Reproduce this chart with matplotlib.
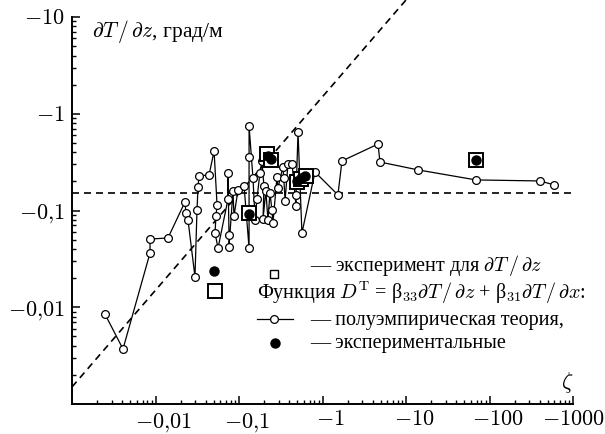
import numpy as np
import matplotlib
matplotlib.use("Agg")
import matplotlib.pyplot as plt
import matplotlib.transforms as mtransforms
from matplotlib.ticker import LogLocator, FixedLocator, FixedFormatter, NullFormatter

plt.rcParams['font.family'] = ['Liberation Serif', 'DejaVu Serif']
plt.rcParams['mathtext.fontset'] = 'cm'

# semi-empirical theory: stability parameter zeta and dT/dz, grad/m
zeta_theory = [-0.00248, -0.00408, -0.0086, -0.0086, -0.0141, -0.0225, -0.0232, -0.0245,
               -0.0297, -0.0314, -0.0323, -0.0332, -0.0438, -0.0503, -0.0546, -0.053,
               -0.0516, -0.0561, -0.0738, -0.0738, -0.0759, -0.0759, -0.0847, -0.0871,
               -0.0973, -0.115, -0.132, -0.132, -0.132, -0.132, -0.147, -0.156,
               -0.164, -0.178, -0.188, -0.199, -0.194, -0.21, -0.222, -0.235,
               -0.248, -0.255, -0.285, -0.293, -0.336, -0.344, -0.356, -0.386,
               -0.432, -0.482, -0.482, -0.509, -0.567, -0.813, -1.53, -1.71,
               -4.62, -4.88, -13.9, -68.9, -403, -592]
dtdz_theory = [-0.00851, -0.0037, -0.0364, -0.0507, -0.052, -0.122, -0.094, -0.0798,
               -0.0206, -0.101, -0.175, -0.228, -0.233, -0.412, -0.114, -0.0877,
               -0.0585, -0.0409, -0.131, -0.244, -0.0558, -0.042, -0.159, -0.0877,
               -0.163, -0.179, -0.0409, -0.092, -0.357, -0.746, -0.217, -0.0798,
               -0.131, -0.244, -0.325, -0.179, -0.0817, -0.159, -0.0798, -0.152,
               -0.101, -0.0743, -0.222, -0.171, -0.282, -0.217, -0.125, -0.303,
               -0.303, -0.111, -0.145, -0.647, -0.0585, -0.25, -0.145, -0.325,
               -0.486, -0.317, -0.263, -0.207, -0.202, -0.184]
# circles that sit under a filled marker are not drawn
theory_hidden = [27]

# measured dT/dz (open squares)
zeta_meas = [-0.0516, -0.132, -0.216, -0.241, -0.495, -0.553, -0.634, -68.9]
dtdz_meas = [-0.0147, -0.094, -0.384, -0.333, -0.197, -0.212, -0.228, -0.333]

# experimental D^T (filled dots)
zeta_dt = [-0.0503, -0.132, -0.222, -0.243, -0.5, -0.56, -0.625, -68.9]
dtdz_dt = [-0.0237, -0.092, -0.365, -0.34, -0.203, -0.215, -0.226, -0.333]

# reference lines
dtdz_const = -0.15
slope_coef = 1.5

x_ticks = [-0.01, -0.1, -1, -10, -100, -1000]
x_labels = ['$-0{,}01$', '$-0{,}1$', '$-1$', '$-10$', '$-100$', '$-1000$']
y_ticks = [-0.01, -0.1, -1, -10]
y_labels = ['$-0{,}01$', '$-0{,}1$', '$-1$', '$-10$']

fig = plt.figure(figsize=(6.05, 4.34), dpi=100)
ax = fig.add_axes([72/605, 30/434, 501/605, 387/434])
ax.set_xscale('log')
ax.set_yscale('log')
ax.set_xlim(1e-3, 1e3)
ax.set_ylim(1e-3, 1e1)

# both axes carry negative values, plotted by magnitude
zt = -np.array(zeta_theory)
dt = -np.array(dtdz_theory)

ax.plot([1e-3, 1e3], [-dtdz_const]*2, color='black', lw=1.2, dashes=(4.2, 3), zorder=1)
zl = np.array([1e-3, 10.3])
ax.plot(zl, slope_coef*zl, color='black', lw=1.2, dashes=(4.2, 3), zorder=1, clip_on=False)

ax.plot(zt, dt, color='black', lw=0.9, zorder=2)
shown = [i for i in range(len(zt)) if i not in theory_hidden]
ax.plot(zt[shown], dt[shown], ls='none', marker='o', ms=5.6, mfc='white',
        mec='black', mew=0.9, zorder=3)
ax.plot(-np.array(zeta_meas), -np.array(dtdz_meas), ls='none', marker='s', ms=9.4,
        mfc='white', mec='black', mew=1.4, zorder=4)
ax.plot(-np.array(zeta_dt), -np.array(dtdz_dt), ls='none', marker='o', ms=6.5,
        mfc='black', mec='black', zorder=5)

for side in ['top', 'right']:
    ax.spines[side].set_visible(False)
for side in ['left', 'bottom']:
    ax.spines[side].set_linewidth(1.4)

ax.xaxis.set_major_locator(FixedLocator([-v for v in x_ticks]))
ax.xaxis.set_major_formatter(FixedFormatter(x_labels))
ax.yaxis.set_major_locator(FixedLocator([-v for v in y_ticks]))
ax.yaxis.set_major_formatter(FixedFormatter(y_labels))
ax.xaxis.set_minor_locator(LogLocator(base=10, subs=np.arange(2, 10), numticks=20))
ax.yaxis.set_minor_locator(LogLocator(base=10, subs=np.arange(2, 10), numticks=20))
ax.xaxis.set_minor_formatter(NullFormatter())
ax.yaxis.set_minor_formatter(NullFormatter())
ax.tick_params(which='major', direction='in', length=5.5, width=1.1, labelsize=16, pad=5)
ax.tick_params(which='minor', direction='in', length=3, width=1.0)

# x labels sit a little right of their ticks, the last one is pulled back to the edge
shift = mtransforms.ScaledTranslation(8/100, 0, fig.dpi_scale_trans)
for lab in ax.get_xticklabels()[:-1]:
    lab.set_transform(lab.get_transform() + shift)

ax.text(0.04, 0.948, r'$\partial T\,/\,\partial z$, град/м', transform=ax.transAxes,
        fontsize=15.5, va='baseline', ha='left')
ax.text(0.988, 0.041, r'$\zeta$', transform=ax.transAxes, fontsize=16,
        va='baseline', ha='center')

# legend block
tr = ax.transAxes
fs = 14.5
ax.plot([0.403], [0.336], transform=tr, marker='s', ms=5.2, mfc='white', mec='black',
        mew=1.0, clip_on=False)
ax.text(0.475, 0.344, r'— эксперимент для $\partial T\,/\,\partial z$', transform=tr,
        fontsize=fs, va='baseline')
ax.text(0.369, 0.272, r'Функция $D^{\mathrm{T}}$ = β$_{33}\partial T\,/\,\partial z$ + '
        r'β$_{31}\partial T\,/\,\partial x$:', transform=tr, fontsize=fs, va='baseline')
ax.plot([0.369, 0.441], [0.220, 0.220], transform=tr, color='black', lw=0.9, clip_on=False)
ax.plot([0.403], [0.220], transform=tr, marker='o', ms=5.6, mfc='white', mec='black',
        mew=0.9, clip_on=False)
ax.text(0.475, 0.204, '— полуэмпирическая теория,', transform=tr, fontsize=fs,
        va='baseline')
ax.plot([0.405], [0.158], transform=tr, marker='o', ms=6.5, mfc='black', mec='black',
        clip_on=False)
ax.text(0.475, 0.145, '— экспериментальные', transform=tr, fontsize=fs, va='baseline')

fig.savefig('out.png', dpi=100)
